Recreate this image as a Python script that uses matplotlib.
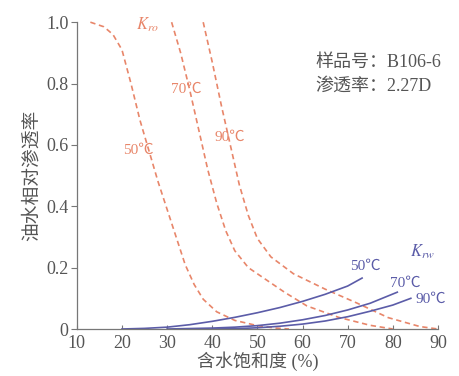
import matplotlib
matplotlib.use("Agg")
import matplotlib.pyplot as plt

plt.rcParams['font.family'] = ['Liberation Serif', 'Noto Sans CJK SC', 'DejaVu Sans']
plt.rcParams['mathtext.fontset'] = 'stix'

# oil relative permeability Kro (dashed)
sw_ro_50 = [13, 16, 18, 20, 22, 24, 26, 28, 30, 32, 34, 36, 38, 41, 45, 50, 54, 57]
kro_50 = [1.0, 0.985, 0.96, 0.91, 0.80, 0.68, 0.58, 0.48, 0.39, 0.30, 0.21, 0.145, 0.097, 0.056, 0.028, 0.011, 0.003, 0.0]
sw_ro_70 = [31, 33, 35, 37, 39, 41, 43, 45, 48, 52, 56, 61, 68, 75, 80]
kro_70 = [1.0, 0.90, 0.78, 0.65, 0.52, 0.41, 0.32, 0.255, 0.20, 0.16, 0.12, 0.075, 0.038, 0.012, 0.0]
sw_ro_90 = [38, 40, 42, 44, 46, 48, 50, 53, 58, 65, 72, 79, 86, 90]
kro_90 = [1.0, 0.87, 0.73, 0.60, 0.47, 0.37, 0.295, 0.235, 0.18, 0.13, 0.085, 0.037, 0.008, 0.0]

# water relative permeability Krw (solid)
sw_rw_50 = [20, 25, 30, 35, 40, 45, 50, 55, 60, 65, 70, 73.2]
krw_50 = [0.0, 0.002, 0.006, 0.014, 0.025, 0.038, 0.053, 0.070, 0.090, 0.113, 0.140, 0.166]
sw_rw_70 = [30, 40, 45, 50, 55, 60, 65, 70, 75, 81]
krw_70 = [0.0, 0.003, 0.006, 0.011, 0.019, 0.030, 0.044, 0.062, 0.084, 0.12]
sw_rw_90 = [40, 45, 50, 55, 60, 65, 70, 75, 80, 84]
krw_90 = [0.0, 0.001, 0.004, 0.009, 0.016, 0.026, 0.040, 0.058, 0.078, 0.10]

x_ticks = [10, 20, 30, 40, 50, 60, 70, 80, 90]
y_ticks = [0, 0.2, 0.4, 0.6, 0.8, 1.0]
y_tick_labels = ['0', '0.2', '0.4', '0.6', '0.8', '1.0']

orange = '#E8866A'
blue = '#5B5CA8'
grey = '#555555'

fig = plt.figure(figsize=(4.6, 3.76), dpi=100)
ax = fig.add_axes([0.167, 0.125, 0.785, 0.816])

dash = (0, (3.2, 2.2))
for sw, kr in [(sw_ro_50, kro_50), (sw_ro_70, kro_70), (sw_ro_90, kro_90)]:
    ax.plot(sw, kr, color=orange, lw=1.2, linestyle=dash, clip_on=False)
for sw, kr in [(sw_rw_50, krw_50), (sw_rw_70, krw_70), (sw_rw_90, krw_90)]:
    ax.plot(sw, kr, color=blue, lw=1.2, clip_on=False)

ax.set_xlim(10, 90)
ax.set_ylim(0, 1.0)
ax.set_xticks(x_ticks)
ax.set_yticks(y_ticks)
ax.set_yticklabels(y_tick_labels)
for s in ['top', 'right']:
    ax.spines[s].set_visible(False)
for s in ['left', 'bottom']:
    ax.spines[s].set_color('#777777')
    ax.spines[s].set_linewidth(0.9)
ax.tick_params(axis='x', direction='in', length=3, color='#777777', labelsize=13, labelcolor=grey, pad=4)
ax.tick_params(axis='y', direction='out', length=4, color='#777777', labelsize=13, labelcolor=grey, pad=2)

ax.set_xlabel('含水饱和度 (%)', fontsize=13, color=grey, labelpad=0)
ax.set_ylabel('油水相对渗透率', fontsize=13.5, color=grey, labelpad=4)

# curve labels
ax.text(25.7, 0.99, r'$K_{ro}$', color=orange, fontsize=12, ha='center', va='center')
ax.text(34.2, 0.78, '70℃', color=orange, fontsize=11, ha='center', va='center')
ax.text(43.9, 0.625, '90℃', color=orange, fontsize=11, ha='center', va='center')
ax.text(23.6, 0.583, '50℃', color=orange, fontsize=11, ha='center', va='center')
ax.text(86.5, 0.25, r'$K_{rw}$', color=blue, fontsize=12, ha='center', va='center')
ax.text(73.9, 0.205, '50℃', color=blue, fontsize=11, ha='center', va='center')
ax.text(82.7, 0.15, '70℃', color=blue, fontsize=11, ha='center', va='center')
ax.text(88.5, 0.095, '90℃', color=blue, fontsize=11, ha='center', va='center')

ax.text(62.8, 0.87, '样品号：B106-6', color=grey, fontsize=13, ha='left', va='center')
ax.text(62.8, 0.79, '渗透率：2.27D', color=grey, fontsize=13, ha='left', va='center')

fig.savefig('out.png', dpi=100)
